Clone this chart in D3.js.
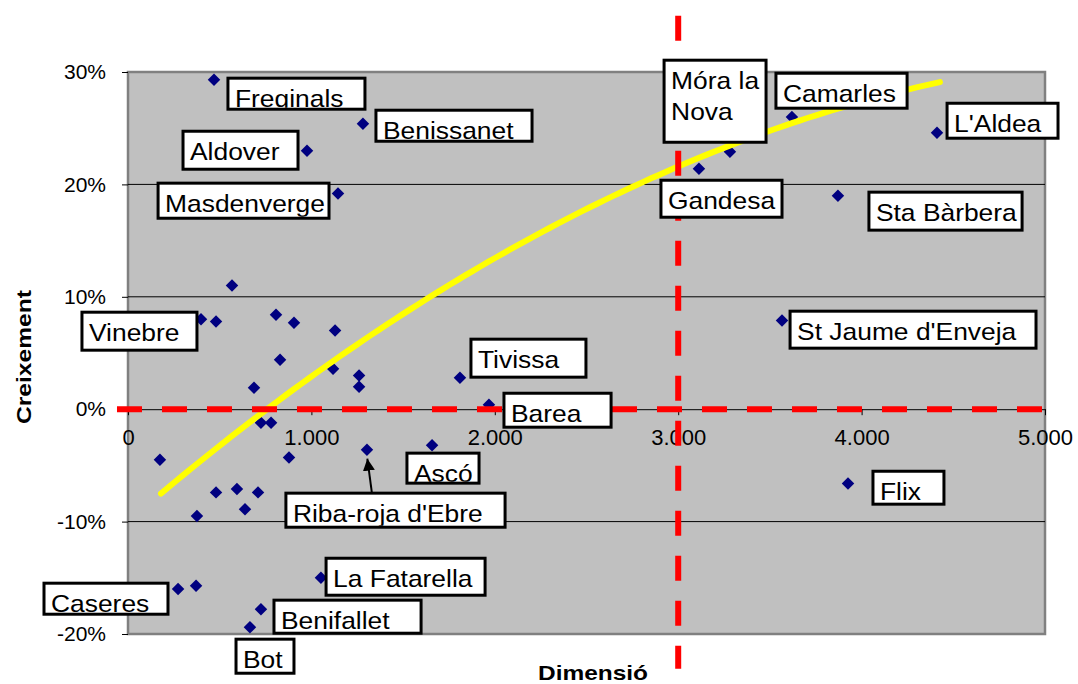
<!DOCTYPE html>
<html>
<head>
<meta charset="utf-8">
<script src="https://cdn.jsdelivr.net/npm/d3@7"></script>
<style>
  body { margin: 0; background: #fff; }
  text { font-family: Arial, "Liberation Sans", sans-serif; }
</style>
</head>
<body>
<svg id="chart"></svg>
<script>
// Dimensió (x) and Creixement in % (y) for every municipality
var dimensio   = [469, 1281, 976, 1145, 567, 398, 480, 807, 905, 1129, 829, 1118, 1260, 1260, 687, 725, 780, 174, 878, 1303,
                  1658, 1810, 1968, 480, 594, 709, 638, 376, 273, 371, 1052, 725, 665, 3113, 3282, 3620, 4411, 3871, 3566, 3926];
var creixement = [29.3, 25.4, 23.0, 19.2, 11.0, 8.0, 7.8, 8.4, 7.7, 7.0, 4.4, 3.6, 3.0, 2.0, 1.9, -1.2, -1.2, -4.5, -4.3, -3.6,
                  -3.2, 2.8, 0.4, -7.4, -7.1, -7.4, -8.9, -9.5, -16.0, -15.7, -15.0, -17.8, -19.4, 21.4, 22.9, 26.0, 24.6, 19.0, 7.9, -6.6];

// polynomial trendline as drawn in the picture: y = c0 + c1*k + c2*k^2, k = Dimensió / 1000
var trendCoef = [-10.0, 14.1, -1.19];
var trendRange = [180, 4427];

// data labels (text boxes), corners given in data units
var labelNames = ["Freginals", "Benissanet", "Aldover", "Masdenverge", "Móra la|Nova", "Camarles", "L'Aldea", "Gandesa",
                  "Sta Bàrbera", "Vinebre", "St Jaume d'Enveja", "Tivissa", "Barea", "Ascó", "Riba-roja d'Ebre", "Caseres",
                  "La Fatarella", "Benifallet", "Bot", "Flix"];
var labelX0 = [545, 1352, 300, 164, 2923, 3533, 4466, 2906, 4040, -251, 3610, 1870, 2050, 1521, 861, -458, 1080, 796, 589, 4062];
var labelY0 = [29.45, 26.6, 24.73, 20.11, 31.05, 29.89, 27.22, 20.37, 19.31, 8.63, 8.72, 6.23, 1.42, -3.91, -7.47, -15.48, -13.26, -16.99, -20.46, -5.52];
var labelX1 = [1292, 2203, 927, 1096, 3479, 4248, 5071, 3566, 4875, 376, 4951, 2497, 2634, 1914, 2056, 218, 1947, 1598, 905, 4449];
var labelY1 = [26.69, 23.84, 21.35, 16.99, 23.75, 26.78, 24.11, 17.08, 15.93, 5.25, 5.43, 2.85, -1.60, -6.58, -10.5, -18.24, -16.55, -19.93, -23.49, -8.45];

var xTicks = [0, 1000, 2000, 3000, 4000, 5000];
var yTicks = [-20, -10, 0, 10, 20, 30];

var width = 1078;
var height = 684;

var svg = d3.select("#chart")
            .attr("width", width)
            .attr("height", height);

svg.append("rect")
    .attr("width", width)
    .attr("height", height)
    .attr("fill", "#fff");

var xScale = d3.scaleLinear()
                .domain([0, 5000])
                .range([128, 1045]);

var yScale = d3.scaleLinear()
                .domain([-20, 30])
                .range([634, 72]);

// numbers like "1.000"
var locale = d3.formatLocale({decimal: ",", thousands: ".", grouping: [3], currency: ["", "€"]});
var fmtThousands = locale.format(",.0f");

// plot area
svg.append("rect")
    .attr("x", xScale(0))
    .attr("y", yScale(30))
    .attr("width", xScale(5000) - xScale(0))
    .attr("height", yScale(-20) - yScale(30))
    .attr("fill", "#c0c0c0")
    .attr("stroke", "#808080")
    .attr("stroke-width", 2.5);

// gridlines
svg.append("g")
    .selectAll("line")
    .data(yTicks.filter(function(d) { return d != -20 && d != 30 && d != 0; }))
    .enter()
    .append("line")
    .attr("x1", xScale(0))
    .attr("x2", xScale(5000))
    .attr("y1", function(d) { return yScale(d); })
    .attr("y2", function(d) { return yScale(d); })
    .attr("stroke", "#000")
    .attr("stroke-width", 1);

// Y Axis
var yAxis = d3.axisLeft(yScale)
                .tickValues(yTicks)
                .tickSize(6)
                .tickSizeOuter(0)
                .tickPadding(16)
                .tickFormat(function(d) { return d + "%"; });

var gy = svg.append("g")
    .attr("transform", "translate(" + xScale(0) + ", 0)")
    .call(yAxis);
gy.select(".domain").remove();
gy.selectAll("text").attr("font-size", 21).attr("font-family", "Arial, 'Liberation Sans', sans-serif").attr("fill", "#000");
gy.selectAll("line").attr("stroke", "#000");

// X Axis, crossing at 0%
var xAxis = d3.axisBottom(xScale)
                .tickValues(xTicks)
                .tickSize(6)
                .tickSizeOuter(0)
                .tickPadding(14)
                .tickFormat(function(d) { return fmtThousands(d); });

var gx = svg.append("g")
    .attr("transform", "translate(0, " + yScale(0) + ")")
    .call(xAxis);
gx.selectAll("text").attr("font-size", 22).attr("font-family", "Arial, 'Liberation Sans', sans-serif").attr("fill", "#000");
gx.selectAll("line").attr("stroke", "#000");
gx.select(".domain").attr("stroke", "#000");

// points
var points = d3.range(dimensio.length);
svg.append("g")
    .selectAll("path")
    .data(points)
    .enter()
    .append("path")
    .attr("d", d3.symbol(d3.symbolSquare, 78))
    .attr("transform", function(i) {
        return "translate(" + xScale(dimensio[i]) + "," + yScale(creixement[i]) + ") rotate(45)";
    })
    .attr("fill", "#000080");

// trendline
var trendLine = d3.line()
    .x(function(d) { return xScale(d); })
    .y(function(d) {
        var k = d / 1000;
        return yScale(trendCoef[0] + trendCoef[1] * k + trendCoef[2] * k * k);
    });

svg.append("path")
    .datum(d3.range(0, 101).map(function(i) { return trendRange[0] + (trendRange[1] - trendRange[0]) * i / 100; }))
    .attr("d", trendLine)
    .attr("fill", "none")
    .attr("stroke", "#ffff00")
    .attr("stroke-width", 6)
    .attr("stroke-linecap", "round");

// red dashed reference lines at 0% and 3.000
svg.append("line")
    .attr("x1", xScale(-60))
    .attr("x2", xScale(5000))
    .attr("y1", yScale(0))
    .attr("y2", yScale(0))
    .attr("stroke", "#ff0000")
    .attr("stroke-width", 6)
    .attr("stroke-dasharray", "25,20");

svg.append("line")
    .attr("x1", xScale(3000))
    .attr("x2", xScale(3000))
    .attr("y1", yScale(35))
    .attr("y2", yScale(-23.1))
    .attr("stroke", "#ff0000")
    .attr("stroke-width", 6)
    .attr("stroke-dasharray", "25,20");

// arrow from the Riba-roja box to its point
svg.append("defs")
    .append("marker")
    .attr("id", "arrow")
    .attr("viewBox", "0 0 10 10")
    .attr("refX", 10)
    .attr("refY", 5)
    .attr("markerWidth", 6)
    .attr("markerHeight", 6)
    .attr("markerUnits", "strokeWidth")
    .attr("orient", "auto")
    .append("path")
    .attr("d", "M0,0 L10,5 L0,10 z")
    .attr("fill", "#000");

svg.append("line")
    .attr("x1", xScale(1330))
    .attr("y1", yScale(-7.47))
    .attr("x2", xScale(1305))
    .attr("y2", yScale(-4.4))
    .attr("stroke", "#000")
    .attr("stroke-width", 2)
    .attr("marker-end", "url(#arrow)");

// label boxes
var defs = svg.select("defs");
var labels = svg.append("g")
    .selectAll("g")
    .data(d3.range(labelNames.length))
    .enter()
    .append("g");

labels.each(function(i) {
    var g = d3.select(this);
    var bx = xScale(labelX0[i]), by = yScale(labelY0[i]);
    var bw = xScale(labelX1[i]) - bx, bh = yScale(labelY1[i]) - by;
    defs.append("clipPath")
        .attr("id", "clip" + i)
        .append("rect")
        .attr("x", bx)
        .attr("y", by)
        .attr("width", bw)
        .attr("height", bh - 1.5);
    g.append("rect")
        .attr("x", bx)
        .attr("y", by)
        .attr("width", bw)
        .attr("height", bh)
        .attr("fill", "#fff")
        .attr("stroke", "#000")
        .attr("stroke-width", 3);
    var lines = labelNames[i].split("|");
    g.append("g")
        .attr("clip-path", "url(#clip" + i + ")")
        .selectAll("text")
        .data(lines)
        .enter()
        .append("text")
        .attr("font-size", 24)
        .attr("fill", "#000")
        .attr("transform", function(d, j) {
            return "translate(" + (bx + 7) + "," + (by + 29 + j * 31) + ") scale(1.1,1)";
        })
        .text(function(d) { return d; });
});

// Axis titles
svg.append("text")
    .attr("text-anchor", "middle")
    .attr("x", 593)
    .attr("y", 680)
    .attr("font-size", 21)
    .attr("font-weight", "bold")
    .attr("textLength", 110)
    .attr("lengthAdjust", "spacingAndGlyphs")
    .text("Dimensió");

svg.append("text")
    .attr("text-anchor", "middle")
    .attr("transform", "translate(31, 357) rotate(-90)")
    .attr("font-size", 21)
    .attr("font-weight", "bold")
    .attr("textLength", 134)
    .attr("lengthAdjust", "spacingAndGlyphs")
    .text("Creixement");
</script>
</body>
</html>
